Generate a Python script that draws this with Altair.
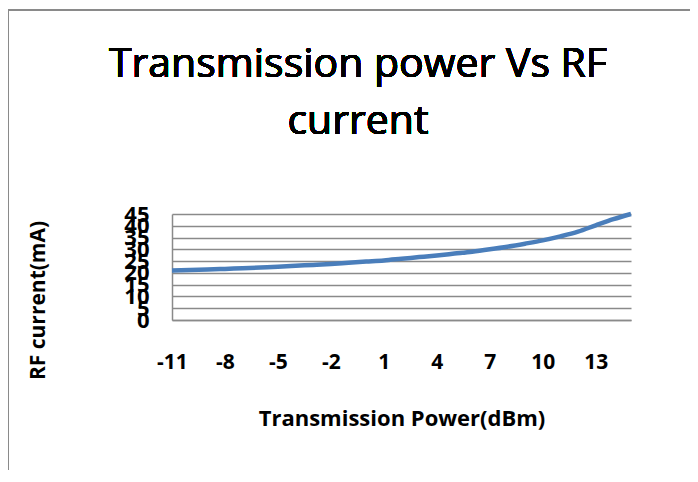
import altair as alt
import pandas as pd

power_dbm = list(range(-11, 16))
rf_current_ma = [21.0, 21.2, 21.4, 21.7, 22.0, 22.3, 22.6, 23.0, 23.4, 23.8,
                 24.3, 24.8, 25.3, 26.0, 26.7, 27.4, 28.2, 29.0, 30.0, 31.1,
                 32.4, 33.8, 35.5, 37.5, 40.2, 42.8, 45.0]
x_ticks = [-11, -8, -5, -2, 1, 4, 7, 10, 13]
y_ticks = [0, 5, 10, 15, 20, 25, 30, 35, 40, 45]
title_lines = ["Transmission power Vs RF", "current"]

df = pd.DataFrame({"power": power_dbm, "current": rf_current_ma})

FONT = "Open Sans"
GRAY = "#8a8a8a"

line = alt.Chart(df).mark_line(
    interpolate="monotone", color="#4a7ebb", strokeWidth=4.5, clip=False
).encode(
    x=alt.X("power:Q",
            scale=alt.Scale(domain=[-11, 15], nice=False, zero=False),
            axis=alt.Axis(values=x_ticks, title="Transmission Power(dBm)",
                          labelExpr="'' + datum.value",
                          grid=False, ticks=False, domain=True,
                          domainColor=GRAY, domainWidth=1.5,
                          labelFont=FONT, labelFontSize=21, labelFontWeight="bold",
                          labelColor="black", labelPadding=31, labelFlush=False,
                          labelOverlap=False,
                          titleFont=FONT, titleFontSize=22, titleFontWeight="bold",
                          titleColor="black", titleX=229.5, titleY=98,
                          titleBaseline="middle", titleAlign="center")),
    y=alt.Y("current:Q",
            scale=alt.Scale(domain=[0, 45], nice=False),
            axis=alt.Axis(values=y_ticks, title="RF current(mA)",
                          grid=True, gridColor=GRAY, gridWidth=1.5,
                          ticks=False, domain=True, domainColor=GRAY, domainWidth=1.5,
                          labelFont=FONT, labelFontSize=22, labelFontWeight="bold",
                          labelColor="black", labelPadding=23, labelFlush=False,
                          labelOverlap=False,
                          titleFont=FONT, titleFontSize=21, titleFontWeight="bold",
                          titleColor="black", titleX=-134, titleY=86,
                          titleBaseline="middle", titleAlign="center")),
)

title = alt.Chart(df).mark_text(
    font=FONT, fontSize=41, fontWeight="normal", color="black",
    lineHeight=57, align="center", baseline="alphabetic"
).encode(x=alt.value(186), y=alt.value(-137), text=alt.value(title_lines))

border_left = alt.Chart(df).mark_rule(color=GRAY, strokeWidth=2, clip=False).encode(
    x=alt.value(-164), y=alt.value(-204), y2=alt.value(300))
border_top = alt.Chart(df).mark_rule(color=GRAY, strokeWidth=2, clip=False).encode(
    x=alt.value(-164), x2=alt.value(560), y=alt.value(-204))

chart = alt.layer(border_left, border_top, title, line).properties(
    width=459, height=106,
    autosize=alt.AutoSizeParams(type="none"),
    padding={"left": 164, "top": 206, "right": 59, "bottom": 150},
).configure_view(stroke=None)

chart.save("out.html", embed_options={"renderer": "svg", "actions": False})
